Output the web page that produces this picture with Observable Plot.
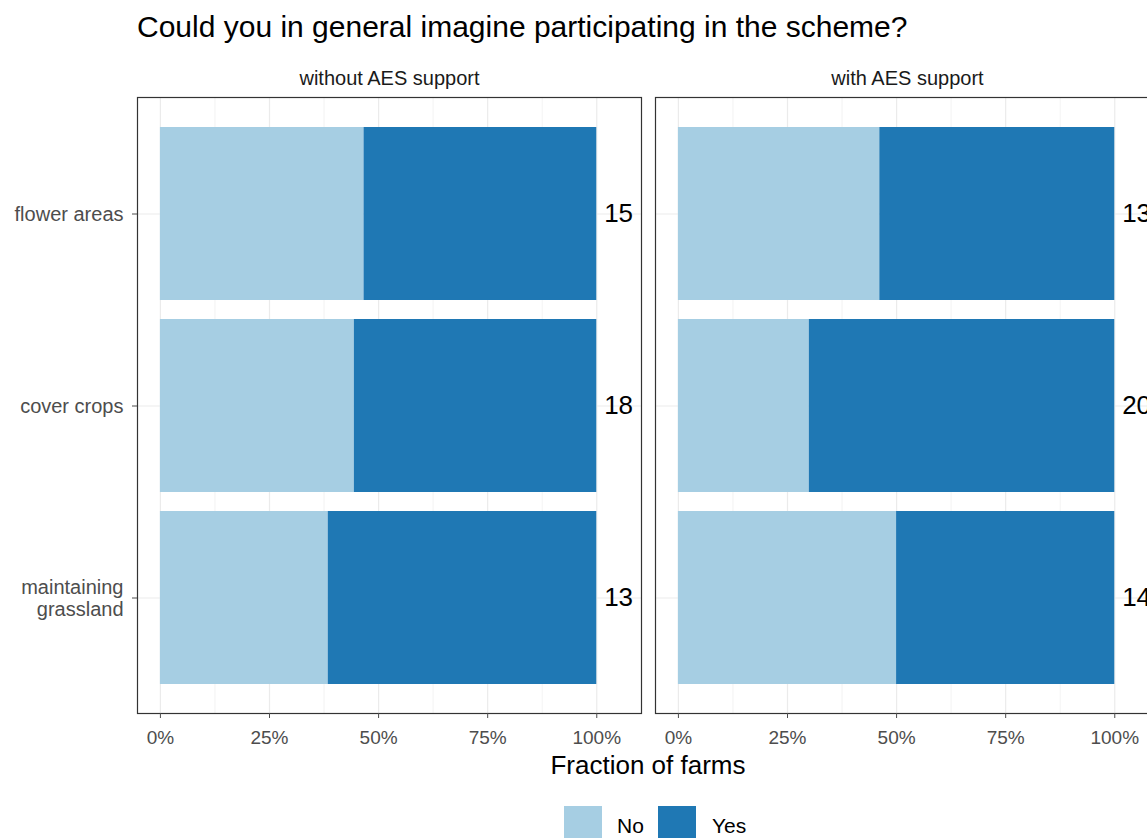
<!DOCTYPE html>
<html><head><meta charset="utf-8">
<script src="https://cdn.jsdelivr.net/npm/d3@7"></script>
<script src="https://cdn.jsdelivr.net/npm/@observablehq/plot@0.6"></script>
<style>
body{margin:0;background:#fff;overflow:hidden;font-family:"Liberation Sans",Arial,sans-serif;}
#wrap{position:relative;width:1147px;height:838px;overflow:hidden;background:#fff;}
#title{position:absolute;left:137px;top:10px;font-size:30px;line-height:34px;color:#000;white-space:nowrap;}
#chart{position:absolute;left:0;top:50px;width:1165px;}
#chart svg{max-width:none !important;}
#xtitle{position:absolute;left:0;width:1296px;text-align:center;top:750px;font-size:26px;line-height:30px;color:#000;}
.sw{position:absolute;top:806px;width:38px;height:38px;}
.lt{position:absolute;top:812px;font-size:21px;line-height:28px;color:#000;}
</style></head>
<body>
<div id="wrap">
  <div id="title">Could you in general imagine participating in the scheme?</div>
  <div id="chart"></div>
  <div id="xtitle">Fraction of farms</div>
  <div id="legend"></div>
</div>
<script>
const categories = ["flower areas", "cover crops", "maintaining grassland"];
const supports = ["without AES support", "with AES support"];
const answers = ["No", "Yes"];
const colors = ["#a6cee3", "#1f78b4"];
const noWithout = [7, 8, 5];
const totalWithout = [15, 18, 13];
const noWith = [6, 6, 7];
const totalWith = [13, 20, 14];
const xTicks = [0, 0.25, 0.5, 0.75, 1];
const xMinor = [0.125, 0.375, 0.625, 0.875];
const xTickLabels = ["0%", "25%", "50%", "75%", "100%"];
const yTickLabels = ["flower areas", "cover crops", "maintaining\ngrassland"];

const rows = [];
const labels = [];
[[supports[0], noWithout, totalWithout], [supports[1], noWith, totalWith]].forEach(([s, no, tot]) => {
  categories.forEach((c, i) => {
    rows.push({support: s, cat: c, answer: "No", frac: no[i] / tot[i]});
    rows.push({support: s, cat: c, answer: "Yes", frac: (tot[i] - no[i]) / tot[i]});
    labels.push({support: s, cat: c, n: String(tot[i])});
  });
});

const plot = Plot.plot({
  width: 1165, height: 700,
  marginLeft: 137, marginRight: 6, marginTop: 47, marginBottom: 37,
  style: {fontFamily: "'Liberation Sans', Arial, sans-serif", background: "#fff", overflow: "visible", maxWidth: "none"},
  fx: {domain: supports, paddingInner: 14 / 518, paddingOuter: 0, label: null},
  x: {domain: [-0.0525, 1.1025], label: null},
  y: {domain: categories, paddingInner: 0.1, paddingOuter: 0.15, label: null},
  color: {domain: answers, range: colors},
  marks: [
    Plot.ruleX(xMinor, {stroke: "#ebebeb", strokeWidth: 0.6}),
    Plot.ruleX(xTicks, {stroke: "#ebebeb", strokeWidth: 1.2}),
    Plot.ruleY(categories, {y: d => d, stroke: "#ebebeb", strokeWidth: 1.2}),
    Plot.barX(rows, {x: "frac", y: "cat", fx: "support", fill: "answer"}),
    Plot.text(labels, {x: () => 1.05, y: "cat", fx: "support", text: "n", fontSize: 26, fill: "#000"}),
    Plot.frame({stroke: "#333", strokeWidth: 1.2}),
    Plot.axisX({ticks: xTicks, tickFormat: d => xTickLabels[xTicks.indexOf(d)], tickSize: 5, tickPadding: 12, fontSize: 19, color: "#4d4d4d", label: null}),
    Plot.axisY({tickSize: 5, tickPadding: 9, fontSize: 20, lineHeight: 1.1, tickFormat: d => yTickLabels[categories.indexOf(d)], color: "#4d4d4d", label: null}),
    Plot.axisFx({anchor: "top", tickSize: 0, tickPadding: 13, fontSize: 20, color: "#1a1a1a", label: null})
  ]
});
document.getElementById("chart").appendChild(plot);

const wrap = document.getElementById("wrap");
const legendPos = [{sw: 564, tx: 617}, {sw: 658, tx: 712}];
answers.forEach((a, i) => {
  const sw = document.createElement("div");
  sw.className = "sw"; sw.style.left = legendPos[i].sw + "px"; sw.style.background = colors[i];
  wrap.appendChild(sw);
  const t = document.createElement("div");
  t.className = "lt"; t.style.left = legendPos[i].tx + "px"; t.textContent = a;
  wrap.appendChild(t);
});
</script>
</body></html>
